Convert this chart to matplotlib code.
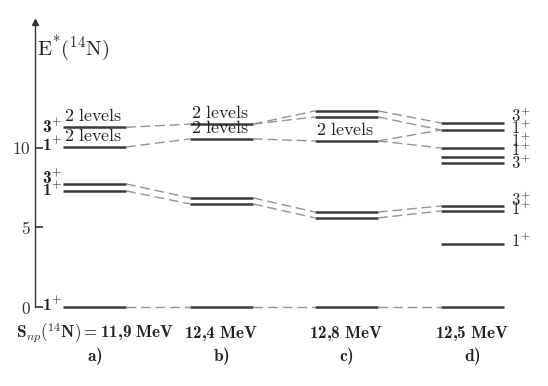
import matplotlib
matplotlib.use('Agg')
import matplotlib.pyplot as plt

plt.rcParams['mathtext.fontset'] = 'custom'
plt.rcParams['mathtext.rm'] = 'cmr10'
plt.rcParams['mathtext.it'] = 'cmmi10'
plt.rcParams['mathtext.bf'] = 'cmb10'
plt.rcParams['font.family'] = 'serif'
plt.rcParams['axes.unicode_minus'] = False

# excitation energies (MeV)
levels_a = [0.0, 7.30, 7.74, 10.06, 11.30]
spins_a = ['1', '1', '3', '1', '3']
levels_b = [0.0, 6.48, 6.86, 10.57, 11.50]
levels_c = [0.0, 5.60, 5.97, 10.44, 11.95, 12.33]
levels_d = [0.0, 3.96, 6.04, 6.35, 9.06, 9.43, 10.00, 11.13, 11.57]
spins_d = ['', '1', '1', '3', '3', '1', '1', '1', '3']

# levels carrying a "2 levels" tag
doublets_a = [10.06, 11.30]
doublets_b = [10.57, 11.50]
doublets_c = [10.44]

# dashed correspondences between neighbouring columns
links_ab = [(0.0, 0.0), (7.30, 6.48), (7.74, 6.86), (10.06, 10.57), (11.30, 11.50)]
links_bc = [(0.0, 0.0), (6.48, 5.60), (6.86, 5.97), (10.57, 10.44), (11.50, 11.95), (11.50, 12.33)]
links_cd = [(0.0, 0.0), (5.60, 6.04), (5.97, 6.35), (10.44, 10.00), (10.44, 11.13),
            (11.95, 11.13), (12.33, 11.57)]

col_names = [r'$\mathbf{S}_{np}(^{14}\mathbf{N})\mathbf{=11{,}9\ MeV}$',
             r'$\mathbf{12{,}4\ MeV}$', r'$\mathbf{12{,}8\ MeV}$', r'$\mathbf{12{,}5\ MeV}$']
col_tags = ['a)', 'b)', 'c)', 'd)']

# layout
col_left = [63, 190, 315, 441]
col_w = 63
col_mid = [95, 221, 346, 472]
lev_color = '#3a3a3a'
dash_color = '#939393'
txt_color = '#222222'

fig = plt.figure(figsize=(5.48, 3.86), dpi=100)
ax = fig.add_axes([35 / 548, 79 / 386, (548 - 35) / 548, (307 - 22) / 386])
ax.set_xlim(35, 548)
ax.set_ylim(0, 17.92)
for s in ['top', 'right', 'bottom']:
    ax.spines[s].set_visible(False)
ax.spines['left'].set_color('#333333')
ax.spines['left'].set_linewidth(1.0)
ax.set_xticks([])
ax.set_yticks([0, 5, 10])
ax.set_yticklabels([r'$0$', r'$5$', r'$10$'])
ax.tick_params(axis='y', direction='in', length=6, width=1.2, colors='#333333',
               labelsize=12.5, pad=3)
ax.plot([35], [17.92], marker='^', color='#333333', markersize=5, clip_on=False)

cols = [levels_a, levels_b, levels_c, levels_d]
for i, levs in enumerate(cols):
    x0 = col_left[i]
    for e in levs:
        ax.plot([x0, x0 + col_w], [e, e], color=lev_color, lw=1.8, clip_on=False,
                solid_capstyle='butt')

for i, links in enumerate([links_ab, links_bc, links_cd]):
    xr = col_left[i] + col_w
    xl = col_left[i + 1]
    for e1, e2 in links:
        ax.plot([xr, xl], [e1, e2], color=dash_color, lw=1.0, ls=(0, (7, 3.5)), clip_on=False)

for i, dbl in enumerate([doublets_a, doublets_b, doublets_c]):
    for e in dbl:
        ax.text(col_left[i] + 1, e + 0.12, r'$\mathrm{2\ levels}$', fontsize=13,
                ha='left', va='bottom', color=txt_color)

# spin labels, column a on the left
offs_a = [0.1, 0.02, 0.3, 0.06, -0.05]
for e, s, o in zip(levels_a, spins_a, offs_a):
    ax.text(col_left[0] - 1, e + o, r'$\mathbf{%s}^{+}$' % s, fontsize=12.5,
            ha='right', va='center', color=txt_color)

# spin labels, column d on the right
offs_d = [0, 0.1, 0.05, 0.3, -0.05, 0.35, 0.35, 0.05, 0.35]
for e, s, o in zip(levels_d, spins_d, offs_d):
    if s:
        ax.text(col_left[3] + col_w + 7, e + o, r'$%s^{+}$' % s, fontsize=12,
                ha='left', va='center', color=txt_color)

for i in range(4):
    ax.text(col_mid[i], -1.64, col_names[i], fontsize=12.3, ha='center', va='center',
            color=txt_color)
    ax.text(col_mid[i], -3.08, r'$\mathbf{%s}$' % col_tags[i], fontsize=12.5,
            ha='center', va='center', color=txt_color)

ax.text(37, 15.85, r'$\mathrm{E^{*}(^{14}N)}$', fontsize=15, ha='left', va='baseline',
        color=txt_color)

fig.savefig('out.png', dpi=100)
